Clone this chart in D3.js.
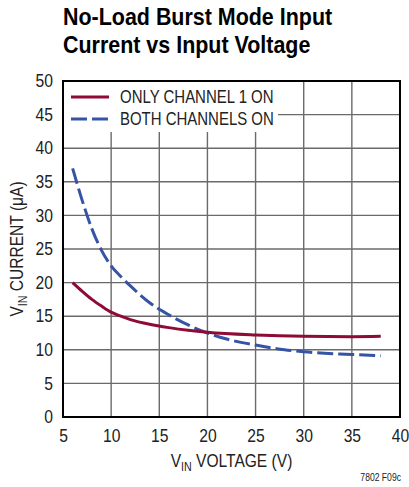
<!DOCTYPE html>
<html>
<head>
<meta charset="utf-8">
<script src="https://cdn.jsdelivr.net/npm/d3@7"></script>
<style>
	body { margin: 0; background: #fff; }
	svg { display: block; font-family: "Liberation Sans", Arial, sans-serif; }
</style>
</head>
<body>
<div id="chart"></div>
<script>
// data
// ----------------------------------------
var ch1_v = [6, 7, 8, 9, 10, 11, 12, 14, 16, 18, 20, 25, 30, 35, 38];
var ch1_i = [20, 18.7, 17.5, 16.5, 15.6, 15.0, 14.5, 13.8, 13.3, 12.9, 12.6, 12.2, 12.0, 11.95, 12.0];

var both_v = [6, 7, 8, 9, 10, 11, 12, 14, 16, 18, 20, 22, 25, 28, 30, 35, 38];
var both_i = [37, 32.2, 28.0, 24.8, 22.5, 20.9, 19.5, 17.0, 15.2, 13.7, 12.5, 11.6, 10.7, 10.0, 9.7, 9.3, 9.1];

var x_ticks = [5, 10, 15, 20, 25, 30, 35, 40];
var y_ticks = [0, 5, 10, 15, 20, 25, 30, 35, 40, 45, 50];

var legend_labels = ["ONLY CHANNEL 1 ON", "BOTH CHANNELS ON"];
var title_lines = ["No-Load Burst Mode Input", "Current vs Input Voltage"];

// main variables
// ----------------------------------------
var width = 409, height = 487;
var margin = {top: 81, right: 9, bottom: 70, left: 63};
var w = width - margin.left - margin.right,
	h = height - margin.top - margin.bottom;

var red = "#8e0b35", blue = "#3654a5";

var svg = d3.select("#chart").append("svg")
	.attr("width", width)
	.attr("height", height);

// no condensed font installed, so squeeze the text horizontally
function squeeze(sel, k){
	sel.each(function(){
		var len = this.getComputedTextLength();
		d3.select(this)
			.attr("textLength", len * k)
			.attr("lengthAdjust", "spacingAndGlyphs");
	});
}

// title
svg.selectAll(".title").data(title_lines).enter()
	.append("text")
	.attr("class", "title")
	.attr("x", 63)
	.attr("y", function(d, i){ return 25 + i * 28; })
	.attr("font-size", 24.5)
	.attr("font-weight", "bold")
	.attr("fill", "#000")
	.text(function(d){ return d; })
	.call(squeeze, 0.875);

var plot = svg.append("g")
	.attr("transform", "translate(" + margin.left + "," + margin.top + ")");

var x = d3.scaleLinear().domain([5, 40]).range([0, w]);
var y = d3.scaleLinear().domain([0, 50]).range([h, 0]);

// grid
plot.append("g")
	.selectAll("line").data(x_ticks.slice(1, -1)).enter()
	.append("line")
	.attr("x1", function(d){ return x(d); })
	.attr("x2", function(d){ return x(d); })
	.attr("y1", 0).attr("y2", h)
	.attr("stroke", "#6a6a6a").attr("stroke-width", 1.4);

plot.append("g")
	.selectAll("line").data(y_ticks.slice(1, -1)).enter()
	.append("line")
	.attr("x1", 0).attr("x2", w)
	.attr("y1", function(d){ return y(d); })
	.attr("y2", function(d){ return y(d); })
	.attr("stroke", "#6a6a6a").attr("stroke-width", 1.4);

// legend box hides the grid under it
plot.append("rect")
	.attr("x", 0).attr("y", 0)
	.attr("width", 215).attr("height", 51)
	.attr("fill", "#fff");

// frame
plot.append("rect")
	.attr("x", 0).attr("y", 0)
	.attr("width", w).attr("height", h)
	.attr("fill", "none")
	.attr("stroke", "#000").attr("stroke-width", 2);

// axes (labels only)
var xAxis = plot.append("g")
	.attr("transform", "translate(0," + h + ")")
	.call(d3.axisBottom(x).tickValues(x_ticks).tickSize(0).tickPadding(12));
var yAxis = plot.append("g")
	.call(d3.axisLeft(y).tickValues(y_ticks).tickSize(0).tickPadding(11.5));

[xAxis, yAxis].forEach(function(a){
	a.select(".domain").remove();
	a.selectAll("text")
		.attr("font-family", "Liberation Sans, Arial, sans-serif")
		.attr("font-size", 18)
		.attr("fill", "#222")
		.attr("transform", "scale(0.87,1)");
});

// curves
var line = d3.line()
	.curve(d3.curveMonotoneX)
	.x(function(d){ return x(d[0]); })
	.y(function(d){ return y(d[1]); });

var ch1 = ch1_v.map(function(v, i){ return [v, ch1_i[i]]; });
var both = both_v.map(function(v, i){ return [v, both_i[i]]; });

plot.append("path")
	.datum(both)
	.attr("d", line)
	.attr("fill", "none")
	.attr("stroke", blue)
	.attr("stroke-width", 3)
	.attr("stroke-dasharray", "16,5");

plot.append("path")
	.datum(ch1)
	.attr("d", line)
	.attr("fill", "none")
	.attr("stroke", red)
	.attr("stroke-width", 3);

// legend
var leg = plot.append("g");
leg.selectAll("line").data(legend_labels).enter()
	.append("line")
	.attr("x1", 8).attr("x2", 46)
	.attr("y1", function(d, i){ return 16 + i * 22; })
	.attr("y2", function(d, i){ return 16 + i * 22; })
	.attr("stroke", function(d, i){ return i ? blue : red; })
	.attr("stroke-width", 3)
	.attr("stroke-dasharray", function(d, i){ return i ? "16,5" : null; });

leg.selectAll("text").data(legend_labels).enter()
	.append("text")
	.attr("x", 57)
	.attr("y", function(d, i){ return 22 + i * 22; })
	.attr("font-size", 17.5)
	.attr("fill", "#222")
	.text(function(d){ return d; })
	.call(squeeze, 0.855);

// axis titles
var ylab = svg.append("text")
	.attr("transform", "translate(23," + (margin.top + h / 2) + ") rotate(-90) scale(0.89,1)")
	.attr("text-anchor", "middle")
	.attr("font-size", 17.5)
	.attr("fill", "#222");
ylab.append("tspan").text("V");
ylab.append("tspan").attr("font-size", 12).attr("dy", 4).text("IN");
ylab.append("tspan").attr("dy", -4).text(" CURRENT (\u03bcA)");

var xlab = svg.append("text")
	.attr("transform", "translate(" + (margin.left + w / 2) + ",467) scale(0.89,1)")
	.attr("text-anchor", "middle")
	.attr("font-size", 17.5)
	.attr("fill", "#222");
xlab.append("tspan").text("V");
xlab.append("tspan").attr("font-size", 12).attr("dy", 4).text("IN");
xlab.append("tspan").attr("dy", -4).text(" VOLTAGE (V)");

svg.append("text")
	.attr("x", 401)
	.attr("y", 481)
	.attr("text-anchor", "end")
	.attr("font-size", 10)
	.attr("fill", "#222")
	.text("7802 F09c")
	.call(squeeze, 0.86);
</script>
</body>
</html>
